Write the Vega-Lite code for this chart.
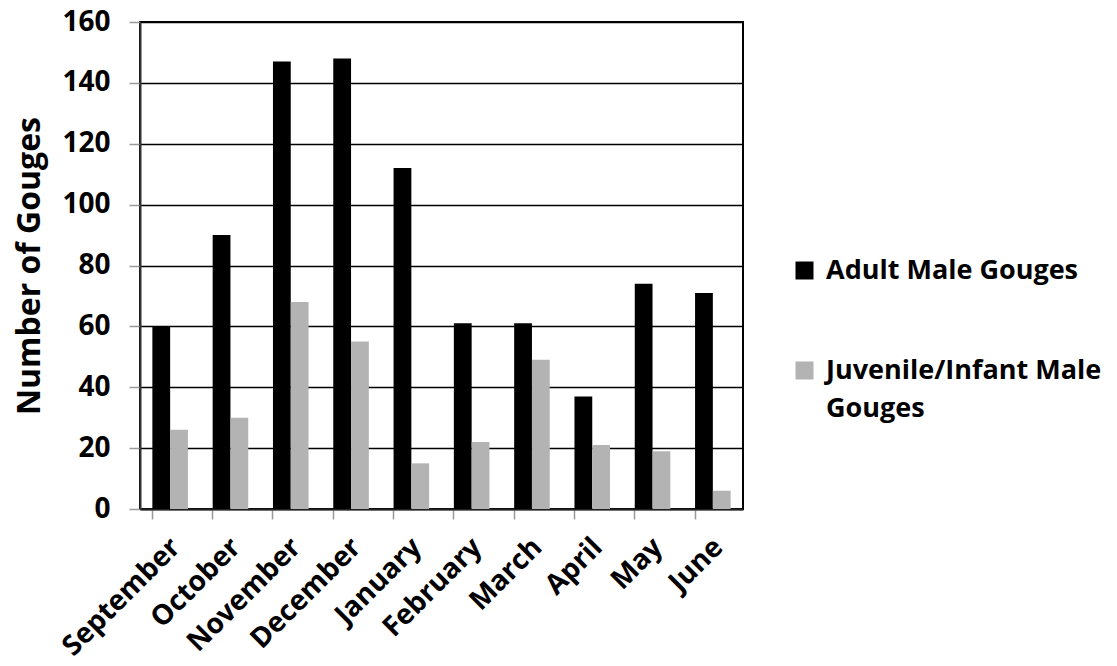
{
  "$schema": "https://vega.github.io/schema/vega-lite/v6.json",
  "autosize": "none",
  "width": 603,
  "height": 487,
  "padding": {"left": 140, "top": 22, "right": 374, "bottom": 157},
  "background": "white",
  "data": {
    "values": [
      {"month": "September", "series": "Adult Male Gouges", "gouges": 60},
      {"month": "September", "series": "Juvenile/Infant Male Gouges", "gouges": 26},
      {"month": "October", "series": "Adult Male Gouges", "gouges": 90},
      {"month": "October", "series": "Juvenile/Infant Male Gouges", "gouges": 30},
      {"month": "November", "series": "Adult Male Gouges", "gouges": 147},
      {"month": "November", "series": "Juvenile/Infant Male Gouges", "gouges": 68},
      {"month": "December", "series": "Adult Male Gouges", "gouges": 148},
      {"month": "December", "series": "Juvenile/Infant Male Gouges", "gouges": 55},
      {"month": "January", "series": "Adult Male Gouges", "gouges": 112},
      {"month": "January", "series": "Juvenile/Infant Male Gouges", "gouges": 15},
      {"month": "February", "series": "Adult Male Gouges", "gouges": 61},
      {"month": "February", "series": "Juvenile/Infant Male Gouges", "gouges": 22},
      {"month": "March", "series": "Adult Male Gouges", "gouges": 61},
      {"month": "March", "series": "Juvenile/Infant Male Gouges", "gouges": 49},
      {"month": "April", "series": "Adult Male Gouges", "gouges": 37},
      {"month": "April", "series": "Juvenile/Infant Male Gouges", "gouges": 21},
      {"month": "May", "series": "Adult Male Gouges", "gouges": 74},
      {"month": "May", "series": "Juvenile/Infant Male Gouges", "gouges": 19},
      {"month": "June", "series": "Adult Male Gouges", "gouges": 71},
      {"month": "June", "series": "Juvenile/Infant Male Gouges", "gouges": 6}
    ]
  },
  "mark": {"type": "bar"},
  "encoding": {
    "x": {
      "field": "month",
      "type": "nominal",
      "sort": ["September", "October", "November", "December", "January", "February", "March", "April", "May", "June"],
      "scale": {"paddingInner": 0.41, "paddingOuter": 0.205},
      "axis": {
        "title": null,
        "bandPosition": 0,
        "labelOffset": -4,
        "labelAngle": -45,
        "labelAlign": "right",
        "labelBaseline": "top",
        "labelPadding": 14,
        "labelFont": "Open Sans",
        "labelFontWeight": "bold",
        "labelFontSize": 28,
        "labelColor": "black",
        "tickColor": "#999999",
        "tickSize": 10,
        "tickWidth": 1.5,
        "domainColor": "#222222",
        "domainWidth": 2,
        "grid": false
      }
    },
    "xOffset": {
      "field": "series",
      "type": "nominal",
      "scale": {"paddingInner": 0, "paddingOuter": 0}
    },
    "y": {
      "field": "gouges",
      "type": "quantitative",
      "scale": {"domain": [0, 160], "nice": false},
      "axis": {
        "title": "Number of Gouges",
        "titleFont": "Open Sans",
        "titleFontWeight": "bold",
        "titleFontSize": 32,
        "titleColor": "black",
        "titlePadding": 15,
        "values": [0, 20, 40, 60, 80, 100, 120, 140, 160],
        "labelFont": "Open Sans",
        "labelFontWeight": "bold",
        "labelFontSize": 28,
        "labelColor": "black",
        "labelPadding": 19,
        "tickColor": "#999999",
        "tickSize": 11,
        "tickWidth": 1.5,
        "domainColor": "#333333",
        "domainWidth": 2,
        "grid": true,
        "gridColor": "black",
        "gridWidth": 1.5
      }
    },
    "color": {
      "field": "series",
      "type": "nominal",
      "scale": {"range": ["#000000", "#b3b3b3"]},
      "legend": {
        "title": null,
        "orient": "none",
        "legendX": 651,
        "legendY": 235,
        "symbolType": "square",
        "symbolSize": 324,
        "symbolStrokeWidth": 0,
        "labelFont": "Open Sans",
        "labelFontWeight": "bold",
        "labelFontSize": 27,
        "labelColor": "black",
        "labelBaseline": "middle",
        "labelOffset": 8,
        "labelLimit": 400,
        "rowPadding": 72,
        "labelExpr": "datum.label == 'Juvenile/Infant Male Gouges' ? ['Juvenile/Infant Male', 'Gouges'] : datum.label"
      }
    }
  },
  "config": {
    "view": {"stroke": "black", "strokeWidth": 2},
    "axis": {"gridOpacity": 1},
    "style": {"guide-label": {"lineHeight": 38}}
  }
}
